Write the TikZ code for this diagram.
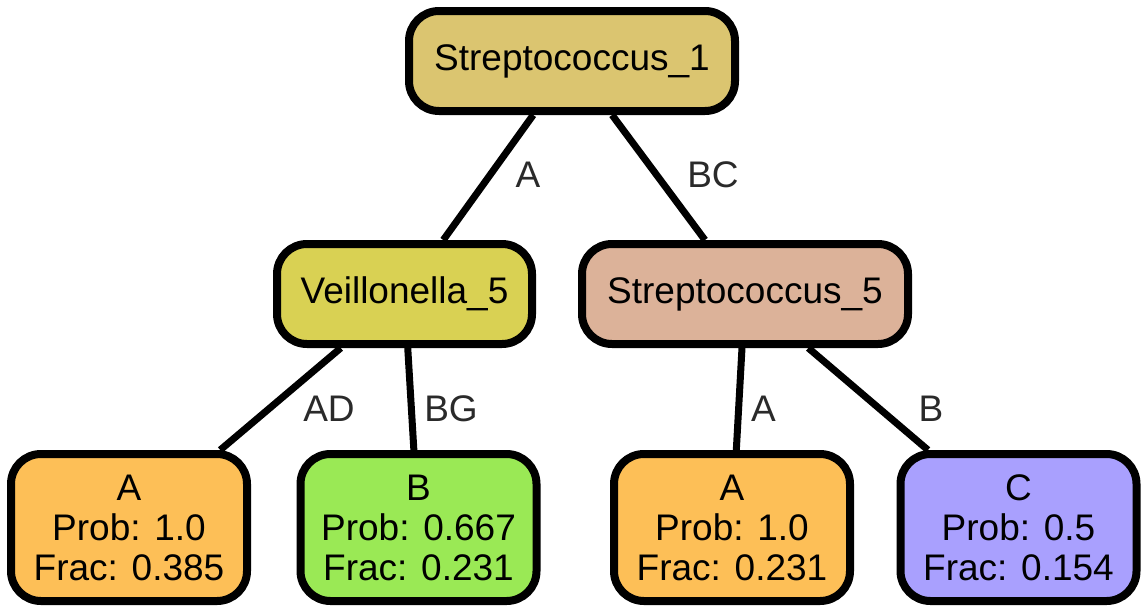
\documentclass[tikz,border=0pt]{standalone}
\usepackage{fontspec}
\setmainfont{Liberation Sans}
\definecolor{croot}{RGB}{219,197,112}
\definecolor{cveil}{RGB}{217,209,83}
\definecolor{cstrep}{RGB}{220,178,153}
\definecolor{corange}{RGB}{253,191,87}
\definecolor{cgreen}{RGB}{154,233,85}
\definecolor{cviolet}{RGB}{169,160,254}
\definecolor{clabel}{RGB}{42,42,42}
\tikzset{
  tree/.style={draw=black, line width=8pt, rounded corners=30pt, inner sep=0pt,
    font=\fontsize{37}{40}\selectfont, text=black},
  inner/.style={tree, minimum height=100pt, text height=27pt, text depth=8pt},
  leaf/.style={tree, minimum width=236pt, minimum height=147pt, align=center},
  conn/.style={line width=7pt, black},
  elabel/.style={font=\fontsize{37}{40}\selectfont, text=clabel, anchor=base, inner sep=0pt}
}
\begin{document}
\begin{tikzpicture}[x=1pt,y=-1pt]
\useasboundingbox (0,0) rectangle (1147,613);
\node[inner, fill=croot, minimum width=326pt] (root) at (572,61) {Streptococcus\_1};
\node[inner, fill=cveil, minimum width=255pt] (veil) at (404.5,294) {Veillonella\_5};
\node[inner, fill=cstrep, minimum width=326pt] (strep) at (745,294) {Streptococcus\_5};
\node[leaf, fill=corange] (la) at (129,527.5) {A\\Prob: 1.0\\Frac: 0.385};
\node[leaf, fill=cgreen] (lb) at (418.5,527.5) {B\\Prob: 0.667\\Frac: 0.231};
\node[leaf, fill=corange] (lc) at (732,527.5) {A\\Prob: 1.0\\Frac: 0.231};
\node[leaf, fill=cviolet] (ld) at (1018.5,527.5) {C\\Prob: 0.5\\Frac: 0.154};
\draw[conn] (root) -- (veil);
\draw[conn] (root) -- (strep);
\draw[conn] (veil) -- (la);
\draw[conn] (veil) -- (lb);
\draw[conn] (strep) -- (lc);
\draw[conn] (strep) -- (ld);
\node[elabel] (e1) at (528,187) {A};
\node[elabel] (e2) at (713,187) {BC};
\node[elabel] (e3) at (329,421) {AD};
\node[elabel] (e4) at (451,421) {BG};
\node[elabel] (e5) at (763.5,421) {A};
\node[elabel] (e6) at (931,421) {B};
\end{tikzpicture}
\end{document}
